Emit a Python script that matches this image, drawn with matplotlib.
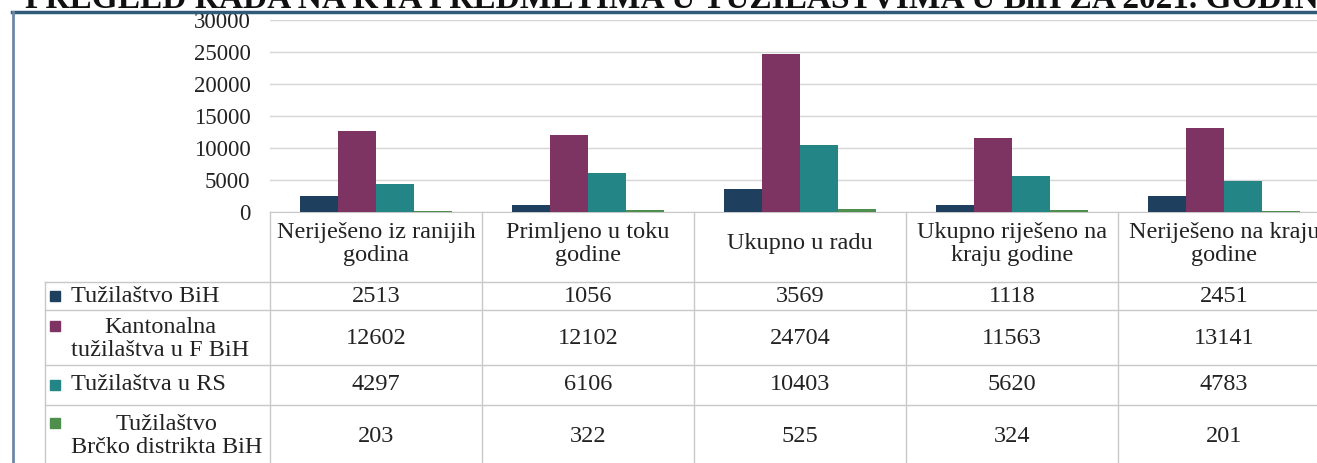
import matplotlib
matplotlib.use("Agg")
import matplotlib.pyplot as plt
from matplotlib.lines import Line2D
from matplotlib.patches import Rectangle
from matplotlib.transforms import blended_transform_factory
import numpy as np

plt.rcParams['font.family'] = ['Liberation Serif', 'DejaVu Serif']

title = "PREGLED RADA NA KTA PREDMETIMA U TUŽILAŠTVIMA U BiH ZA 2021. GODINU"
categories = ["Neriješeno iz ranijih\ngodina", "Primljeno u toku\ngodine", "Ukupno u radu",
              "Ukupno riješeno na\nkraju godine", "Neriješeno na kraju\ngodine"]
series_names = ["Tužilaštvo BiH", "Kantonalna\ntužilaštva u F BiH", "Tužilaštva u RS",
                "Tužilaštvo\nBrčko distrikta BiH"]
tuzilastvo_bih = [2513, 1056, 3569, 1118, 2451]
kantonalna_fbih = [12602, 12102, 24704, 11563, 13141]
tuzilastva_rs = [4297, 6106, 10403, 5620, 4783]
brcko = [203, 322, 525, 324, 201]
series = [tuzilastvo_bih, kantonalna_fbih, tuzilastva_rs, brcko]
colors = ["#1F3F5E", "#7E3462", "#238585", "#4E8F4E"]
yticks = [0, 5000, 10000, 15000, 20000, 25000, 30000]

W, H = 1317, 463
fig = plt.figure(figsize=(W / 100, H / 100), dpi=100)

def fx(x):
    return x / W

def fy(y):
    return 1 - y / H

ax = fig.add_axes([fx(270), fy(212), 1060 / W, (212 - 20) / H])
x = np.arange(len(categories))
bw = 0.18
for i, (vals, c) in enumerate(zip(series, colors)):
    ax.bar(x + (i - 1.5) * bw, vals, bw, color=c, zorder=3)
ax.set_xlim(-0.5, len(categories) - 0.5)
ax.set_ylim(0, 30000)
ax.set_yticks(yticks)
ax.set_yticklabels([str(v) for v in yticks], fontsize=16.5, color="#222222")
ax.tick_params(axis='y', length=0, pad=14)
ax.set_xticks([])
ax.grid(axis='y', color="#d6d6d6", linewidth=1.0, zorder=0)
for s in ['top', 'right', 'left']:
    ax.spines[s].set_visible(False)
ax.spines['bottom'].set_color("#c8c8c8")
ax.patch.set_alpha(0)

# Frame lines
fig.add_artist(Line2D([fx(12), 1], [fy(12), fy(12)], color="#2F5A78", lw=2.5, transform=fig.transFigure))
fig.add_artist(Line2D([fx(13), fx(13)], [fy(12), 0], color="#7088A8", lw=2.0, transform=fig.transFigure))

# Title (cut at top, as in the scanned reference)
fig.text(fx(25), fy(7), title, fontsize=24, fontweight='bold', ha='left', va='baseline', color="#111111")

# Data table
bt = blended_transform_factory(ax.transData, fig.transFigure)
gcol = "#c8c8c8"
for b in np.arange(-0.5, len(categories), 1.0):
    fig.add_artist(Line2D([b, b], [fy(212), 0], color=gcol, lw=1.0, transform=bt))
fig.add_artist(Line2D([fx(45), fx(45)], [fy(282), 0], color=gcol, lw=1.0, transform=fig.transFigure))
for yy in [282, 310, 365, 405]:
    fig.add_artist(Line2D([fx(45), 1], [fy(yy), fy(yy)], color=gcol, lw=1.0, transform=fig.transFigure))

for xi, cat in zip(x, categories):
    fig.text(xi, fy(244), cat, transform=bt, ha='center', va='center', fontsize=17.5,
             multialignment='center', linespacing=1.12, color="#222222")

row_centers = [296, 339, 385, 436]
square_y = [296, 326, 385, 423]
for name, vals, c, yc, sy in zip(series_names, series, colors, row_centers, square_y):
    fig.add_artist(Rectangle((fx(50), fy(sy + 5)), 10 / W, 10 / H, color=c, transform=fig.transFigure))
    fig.text(fx(71), fy(yc), name, ha='left', va='center', fontsize=17.5,
             multialignment='center', linespacing=1.12, color="#222222")
    for xi, v in zip(x, vals):
        fig.text(xi, fy(yc), str(v), transform=bt, ha='center', va='center', fontsize=17.5, color="#222222")

fig.savefig("out.png", dpi=100, facecolor="white")
